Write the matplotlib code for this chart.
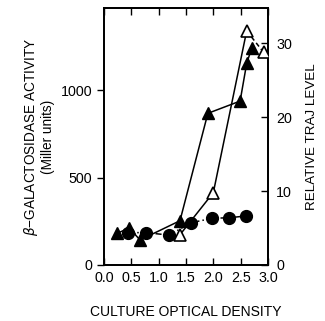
import matplotlib
matplotlib.use("Agg")
import matplotlib.pyplot as plt

plt.rcParams['font.family'] = ['Liberation Sans', 'DejaVu Sans']

# Filled triangles: beta-galactosidase activity (Miller units)
tri_x = [0.24, 0.46, 0.66, 1.39, 1.90, 2.49, 2.61, 2.70]
tri_y = [181, 211, 143, 253, 867, 937, 1152, 1238]

# Filled circles: beta-galactosidase activity (Miller units)
circ_x = [0.44, 0.76, 1.19, 1.60, 1.98, 2.29, 2.59]
circ_y = [185, 185, 171, 242, 267, 270, 280]

# Open triangles: relative TraJ level
open_x = [1.39, 2.00, 2.61, 2.92]
open_y = [4.1, 9.8, 31.7, 28.8]

xticks = [0.0, 0.5, 1.0, 1.5, 2.0, 2.5, 3.0]
xticklabels = ["0.0", "0.5", "1.0", "1.5", "2.0", "2.5", "3.0"]
lticks = [0, 500, 1000]
rticks = [0, 10, 20, 30]

fig = plt.figure(figsize=(3.25, 3.21), dpi=100)
ax = fig.add_axes([0.32, 0.1745, 0.5046, 0.8005])
ax2 = ax.twinx()

ax.plot(tri_x, tri_y, color='black', lw=1.1, marker='^', ms=8.5,
        mfc='black', mec='black', zorder=3)
ax.plot(circ_x, circ_y, color='black', lw=1.1, ls=(0, (4, 2, 1, 2)),
        marker='o', ms=8.5, mfc='black', mec='black', zorder=3)
ax2.plot(open_x[:3], open_y[:3], color='black', lw=1.1, zorder=3)
ax2.plot(open_x[2:], open_y[2:], color='black', lw=1.1, ls=(0, (3, 2)), zorder=3)
ax2.plot(open_x, open_y, ls='none', marker='^', ms=9, mfc='white',
         mec='black', mew=1.2, zorder=4)

ax.set_xlim(0, 3.0)
ax.set_ylim(0, 1469)
ax2.set_ylim(0, 34.8)

ax.set_xticks(xticks)
ax.set_xticklabels(xticklabels)
ax.set_yticks(lticks)
ax2.set_yticks(rticks)

ax.tick_params(axis='x', direction='in', top=True, length=5, width=1,
               labelsize=10.3, pad=4)
ax.tick_params(axis='y', direction='out', length=5, width=1, labelsize=10.3)
ax2.tick_params(axis='y', direction='in', length=5, width=1, labelsize=10.3, pad=6)

for a in (ax, ax2):
    for s in a.spines.values():
        s.set_linewidth(1.3)

ax.set_xlabel("CULTURE OPTICAL DENSITY", fontsize=10, labelpad=15)
ax.set_ylabel("$\\beta$\u2212GALACTOSIDASE ACTIVITY\n(Miller units)",
              fontsize=9.8, linespacing=1.1)
ax.yaxis.set_label_coords(-0.30, 0.5)
ax2.set_ylabel("RELATIVE TRAJ LEVEL", fontsize=9.6, labelpad=10)

fig.savefig("out.png", dpi=100)
